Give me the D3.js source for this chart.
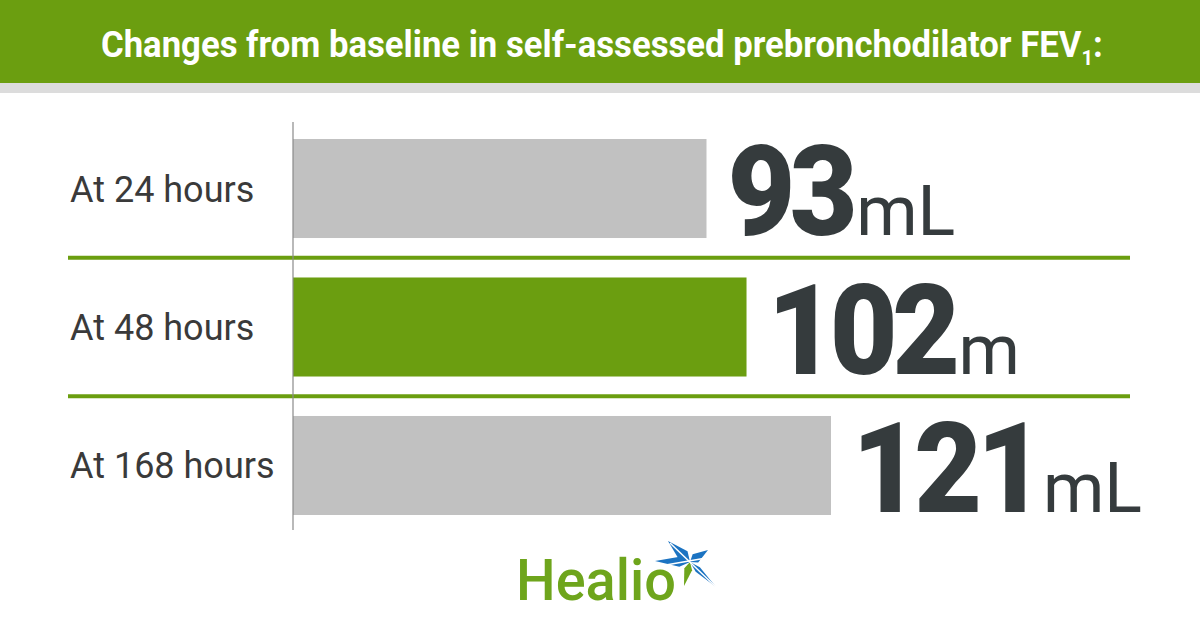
<!DOCTYPE html>
<html><head><meta charset="utf-8">
<script src="https://cdn.jsdelivr.net/npm/d3@7"></script>
<style>
html,body{margin:0;padding:0;background:#fff;}
svg{display:block;}
</style></head>
<body>
<svg id="chart" width="1200" height="630"></svg>
<script>
const titleText = "Changes from baseline in self-assessed prebronchodilator FEV";
const categories = ["At 24 hours", "At 48 hours", "At 168 hours"];
const values = [93, 102, 121];
const units = ["mL", "m", "mL"];
const highlight = [false, true, false];

const svg = d3.select("#chart");
const W = 1200, H = 630;
const green = "#6b9e10", grey = "#c1c1c1", dark = "#353b3d";

// header
svg.append("rect").attr("x",0).attr("y",0).attr("width",W).attr("height",83).attr("fill",green);
svg.append("rect").attr("x",0).attr("y",83).attr("width",W).attr("height",10).attr("fill","#dcdcdc");
const tg = svg.append("g");
const title = tg.append("text").attr("x",0).attr("y",0)
  .attr("font-family","Roboto, sans-serif").attr("font-weight",700).attr("font-size",36)
  .attr("fill","#fff");
title.append("tspan").text(titleText);
title.append("tspan").attr("font-size",21).attr("dy",8).text("1");
title.append("tspan").attr("dy",-8).text(":");
const tw = title.node().getComputedTextLength();
const targetW = 1002;
const sx = targetW / tw;
tg.attr("transform", `translate(101,57) scale(${sx},1)`);

// scales
const x = d3.scaleLinear().domain([0,121]).range([293,831]);
const y = d3.scaleBand().domain(categories).range([139,515]).paddingInner(0.285).paddingOuter(0);
const step = y.step(), bw = y.bandwidth();

// separators
categories.slice(0,-1).forEach(c=>{
  const yy = y(c)+bw+(step-bw)/2;
  svg.append("line").attr("x1",68).attr("x2",1130).attr("y1",yy).attr("y2",yy)
    .attr("stroke",green).attr("stroke-width",4);
});

// bars
svg.selectAll("rect.bar").data(categories).enter().append("rect").attr("class","bar")
  .attr("x",x(0)).attr("y",d=>y(d)).attr("width",(d,i)=>x(values[i])-x(0)).attr("height",bw)
  .attr("fill",(d,i)=>highlight[i]?green:grey);

// axis
const axis = d3.axisLeft(y).tickSize(0).tickFormat("");
const ag = svg.append("g").attr("transform",`translate(${x(0)},0)`).call(axis);
ag.select(".domain").attr("d",`M0,122V530`).attr("stroke","#8a8a8a").attr("stroke-width",1.2);

// category labels
svg.selectAll("text.cat").data(categories).enter().append("text").attr("class","cat")
  .attr("x",70).attr("y",d=>y(d)+bw/2+13)
  .attr("font-family","Roboto, sans-serif").attr("font-size",36).attr("fill","#3a3a3a")
  .text(d=>d);

// value labels
const numScale = 0.93;
categories.forEach((c,i)=>{
  const x0 = x(values[i])+21, by = y(c)+bw-3;
  const g = svg.append("g").attr("transform",`translate(${x0},${by}) scale(${numScale},1)`);
  const nt = g.append("text").attr("x",0).attr("y",0)
    .attr("font-family","Roboto, sans-serif").attr("font-size",126).attr("font-weight",900)
    .attr("letter-spacing",-6).attr("fill",dark).text(values[i]);
  const adv = nt.node().getComputedTextLength()*numScale;
  svg.append("text").attr("x",x0+adv+4).attr("y",by)
    .attr("font-family","Roboto, sans-serif").attr("font-size",70).attr("font-weight",400)
    .attr("fill",dark).text(units[i]);
});

// logo
const lg = svg.append("g");
lg.append("text").attr("x",516).attr("y",600).attr("font-family","Roboto, sans-serif")
  .attr("font-weight",500).attr("font-size",58).attr("fill","#6ea51c")
  .attr("textLength",160).attr("lengthAdjust","spacingAndGlyphs").text("Healio");
const cx=690, cy=562;
const petals=[[655,561,"#1b73c2",5],[668,541,"#1b73c2",6],[708,550,"#1b73c2",5],[716,587,"#1b73c2",3],[684,586,"#6ea51c",4]];
petals.forEach(p=>{
  const dx=p[0]-cx, dy=p[1]-cy, L=Math.hypot(dx,dy);
  const nx=-dy/L*p[3], ny=dx/L*p[3];
  const mx=cx+dx*0.3, my=cy+dy*0.3;
  lg.append("path").attr("d",d3.line()([[cx,cy],[mx+nx,my+ny],[p[0],p[1]],[mx-nx,my-ny]])+"Z").attr("fill",p[2]);
});
lg.append("line").attr("x1",670).attr("y1",543).attr("x2",717).attr("y2",588).attr("stroke","#fff").attr("stroke-width",1.5);
lg.append("line").attr("x1",660).attr("y1",566).attr("x2",712).attr("y2",557).attr("stroke","#fff").attr("stroke-width",1.5);
</script>
</body></html>
